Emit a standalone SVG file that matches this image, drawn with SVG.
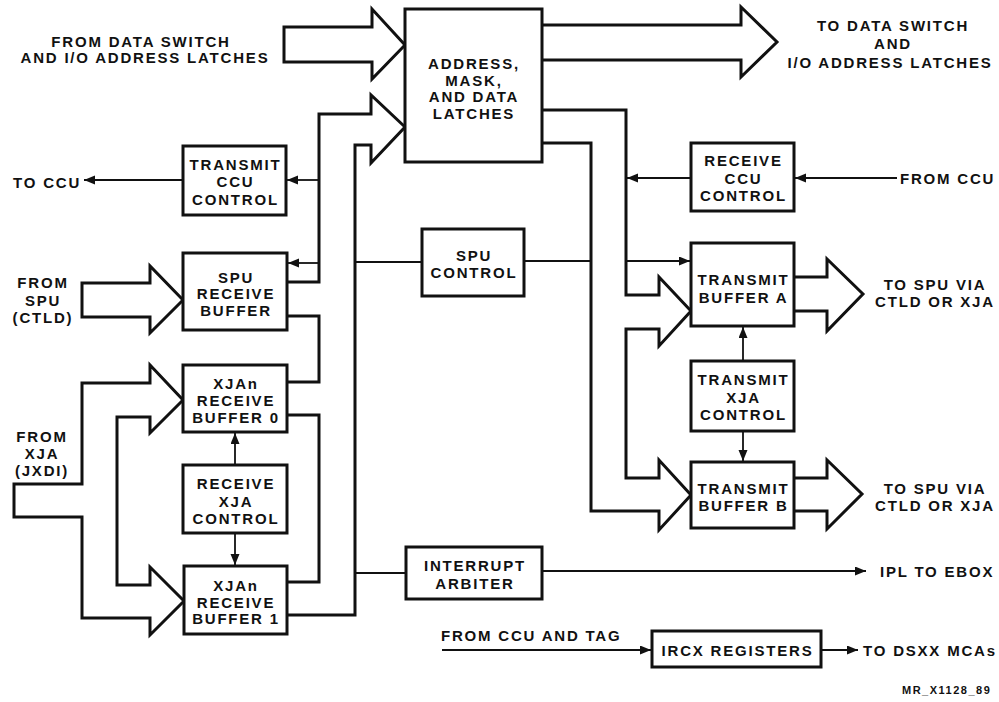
<svg xmlns="http://www.w3.org/2000/svg" width="999" height="702" viewBox="0 0 999 702">
<defs>
<marker id="ah" markerWidth="12" markerHeight="10" refX="11" refY="4.5" orient="auto" markerUnits="userSpaceOnUse"><path d="M0,0 L11,4.5 L0,9 Z" fill="#111"/></marker>
</defs>
<style>
.box{fill:#fff;stroke:#111;stroke-width:3}
.bus{fill:none;stroke:#111;stroke-width:3;stroke-linejoin:miter}
.thin{fill:none;stroke:#111;stroke-width:1.8}
.arr{marker-end:url(#ah)}
text{font-family:"Liberation Sans",Arial,Helvetica,sans-serif;font-weight:bold;font-size:15px;letter-spacing:1.8px;fill:#111}
.c{text-anchor:middle}
.s{font-size:11px;letter-spacing:1.5px}
</style>
<rect width="999" height="702" fill="#fff"/>

<g id="connectors">
  <!-- fat buses -->
  <path class="bus" d="M284,27 H372 V9 L405,45 L372,79 V62 H284 Z"/>
  <path class="bus" d="M542,25 H741 V7 L777,42 L741,77 V60 H542"/>
  <path class="bus" d="M287,282 H319 V114 H371 V95 L405,127 L371,163 V145 H355 V615 H287"/>
  <path class="bus" d="M287,316 H319 V382 H287"/>
  <path class="bus" d="M287,415 H319 V582 H287"/>
  <path class="bus" d="M542,110 H626 V295 H659 V277 L691,311 L659,346 V329 H626 V478 H659 V460 L691,495 L659,530 V511 H591 V143 H542"/>
  <path class="bus" d="M794,277 H827 V259 L863,294 L827,331 V311 H794"/>
  <path class="bus" d="M794,478 H827 V460 L862,494 L827,529 V511 H794"/>
  <path class="bus" d="M82,283 H150 V266 L183,300 L150,333 V317 H82 Z"/>
  <path class="bus" d="M150,383 H82 V484 H14 V517 H82 V618 H150 V635 L184,601 L150,567 V585 H117 V417 H150 V433 L183,400 L150,365 Z"/>
  <!-- thin connectors -->
  <line class="thin arr" x1="319" y1="180" x2="287" y2="180"/>
  <line class="thin arr" x1="183" y1="180" x2="84" y2="180"/>
  <line class="thin arr" x1="319" y1="263" x2="288" y2="263"/>
  <line class="thin arr" x1="235" y1="465" x2="235" y2="433"/>
  <line class="thin arr" x1="235" y1="533" x2="235" y2="565"/>
  <line class="thin arr" x1="691" y1="178" x2="627" y2="178"/>
  <line class="thin arr" x1="897" y1="178" x2="795" y2="178"/>
  <line class="thin arr" x1="626" y1="261" x2="690" y2="261"/>
  <line class="thin arr" x1="743" y1="361" x2="743" y2="327"/>
  <line class="thin arr" x1="743" y1="431" x2="743" y2="461"/>
  <line class="thin arr" x1="542" y1="571" x2="866" y2="571"/>
  <line class="thin arr" x1="442" y1="650" x2="651" y2="650"/>
  <line class="thin arr" x1="821" y1="650" x2="858" y2="650"/>
  <line class="thin" x1="355" y1="262" x2="422" y2="262"/>
  <line class="thin" x1="524" y1="261" x2="591" y2="261"/>
  <line class="thin" x1="355" y1="573" x2="406" y2="573"/>
</g>

<g id="latches">
  <rect class="box" x="405" y="9" width="137" height="153"/>
  <text class="c" x="474" y="68.5">ADDRESS,</text>
  <text class="c" x="474" y="85.5">MASK,</text>
  <text class="c" x="474" y="101.5">AND DATA</text>
  <text class="c" x="474" y="118.5">LATCHES</text>
</g>
<g id="transmit-ccu-control">
  <rect class="box" x="183" y="146" width="103" height="69"/>
  <text class="c" x="235.5" y="169.5">TRANSMIT</text>
  <text class="c" x="235.5" y="186.5">CCU</text>
  <text class="c" x="235.5" y="204.5">CONTROL</text>
</g>
<g id="spu-receive-buffer">
  <rect class="box" x="183" y="253" width="104" height="77"/>
  <text class="c" x="236" y="282.5">SPU</text>
  <text class="c" x="236" y="298.5">RECEIVE</text>
  <text class="c" x="236" y="315.5">BUFFER</text>
</g>
<g id="xja-receive-buffer-0">
  <rect class="box" x="183" y="365" width="104" height="67"/>
  <text class="c" x="236" y="388.5">XJAn</text>
  <text class="c" x="236" y="405.5">RECEIVE</text>
  <text class="c" x="236" y="422.5">BUFFER 0</text>
</g>
<g id="receive-xja-control">
  <rect class="box" x="183" y="465" width="104" height="68"/>
  <text class="c" x="236" y="488.5">RECEIVE</text>
  <text class="c" x="236" y="506.5">XJA</text>
  <text class="c" x="236" y="523.5">CONTROL</text>
</g>
<g id="xja-receive-buffer-1">
  <rect class="box" x="184" y="566" width="103" height="68"/>
  <text class="c" x="236" y="590.5">XJAn</text>
  <text class="c" x="236" y="607.5">RECEIVE</text>
  <text class="c" x="236" y="623.5">BUFFER 1</text>
</g>
<g id="spu-control">
  <rect class="box" x="422" y="229" width="102" height="67"/>
  <text class="c" x="474" y="260.5">SPU</text>
  <text class="c" x="474" y="277.5">CONTROL</text>
</g>
<g id="interrupt-arbiter">
  <rect class="box" x="406" y="547" width="136" height="52"/>
  <text class="c" x="475" y="570.5">INTERRUPT</text>
  <text class="c" x="475" y="588.5">ARBITER</text>
</g>
<g id="receive-ccu-control">
  <rect class="box" x="691" y="143" width="103" height="68"/>
  <text class="c" x="743.5" y="165.5">RECEIVE</text>
  <text class="c" x="743.5" y="183.5">CCU</text>
  <text class="c" x="743.5" y="200.5">CONTROL</text>
</g>
<g id="transmit-buffer-a">
  <rect class="box" x="691" y="243" width="103" height="83"/>
  <text class="c" x="743.5" y="284.5">TRANSMIT</text>
  <text class="c" x="743.5" y="302.5">BUFFER A</text>
</g>
<g id="transmit-xja-control">
  <rect class="box" x="691" y="361" width="103" height="70"/>
  <text class="c" x="743.5" y="384.5">TRANSMIT</text>
  <text class="c" x="743.5" y="402.5">XJA</text>
  <text class="c" x="743.5" y="419.5">CONTROL</text>
</g>
<g id="transmit-buffer-b">
  <rect class="box" x="691" y="462" width="103" height="66"/>
  <text class="c" x="743.5" y="493.5">TRANSMIT</text>
  <text class="c" x="743.5" y="510.5">BUFFER B</text>
</g>
<g id="ircx-registers">
  <rect class="box" x="652" y="631" width="169" height="36"/>
  <text class="c" x="737.5" y="655.5">IRCX REGISTERS</text>
</g>

<g id="labels">
  <text class="c" x="141" y="46.5">FROM DATA SWITCH</text>
  <text class="c" x="145" y="62.5">AND I/O ADDRESS LATCHES</text>
  <text class="c" x="893" y="30.5">TO DATA SWITCH</text>
  <text class="c" x="893" y="48.5">AND</text>
  <text class="c" x="890" y="67.5">I/O ADDRESS LATCHES</text>
  <text x="13" y="187.5">TO CCU</text>
  <text x="900" y="183.5">FROM CCU</text>
  <text class="c" x="43" y="287.5">FROM</text>
  <text class="c" x="43" y="305.5">SPU</text>
  <text class="c" x="43" y="322.5">(CTLD)</text>
  <text class="c" x="42" y="441.5">FROM</text>
  <text class="c" x="42" y="458.5">XJA</text>
  <text class="c" x="42" y="475.5">(JXDI)</text>
  <text class="c" x="935" y="289.5">TO SPU VIA</text>
  <text class="c" x="935" y="306.5">CTLD OR XJA</text>
  <text class="c" x="935" y="493.5">TO SPU VIA</text>
  <text class="c" x="935" y="510.5">CTLD OR XJA</text>
  <text x="880" y="576.5">IPL TO EBOX</text>
  <text x="441" y="640.5">FROM CCU AND TAG</text>
  <text x="863" y="655.5">TO DSXX MCAs</text>
  <text class="s" x="902" y="694">MR_X1128_89</text>
</g>
</svg>
